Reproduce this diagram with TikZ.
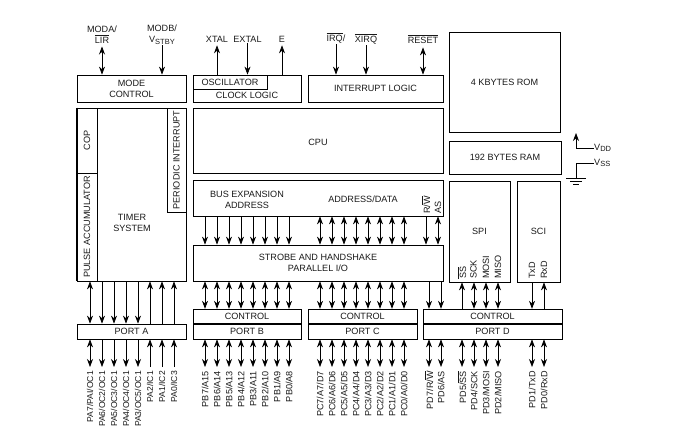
\documentclass[tikz,border=0pt]{standalone}
\usepackage{fontspec}
\setmainfont{Liberation Sans}
\usepackage{tikz}
\usetikzlibrary{arrows.meta,positioning,calc}
\newcommand{\barsig}[1]{$\overline{\mbox{#1}}$}
\newcommand{\subsig}[1]{\raisebox{-1.5pt}{\fontsize{7.5}{8}\selectfont #1}}

\begin{document}
\begin{tikzpicture}[
      x=1pt, y=-1pt,
      blockbox/.style={rectangle, draw=black, line width=0.8pt, fill=white,
                       inner sep=0pt, align=center},
      sidebox/.style={blockbox, rotate=90},
      arrow/.style={-{Stealth[length=8pt,width=6pt]}, line width=0.7pt},
      dblarrow/.style={{Stealth[length=8pt,width=6pt]}-{Stealth[length=8pt,width=6pt]},
                       line width=0.7pt},
      plainline/.style={line width=0.7pt},
      pinlabel/.style={rotate=90, anchor=east, inner xsep=4pt, inner ysep=0pt},
      siglabel/.style={inner sep=0pt, align=center},
      every node/.style={font=\fontsize{9.1}{11}\selectfont, text=black!90}
    ]
      \useasboundingbox (0,0) rectangle (678,444);
      %% Top row blocks
      \node[blockbox, minimum width=109pt, minimum height=27pt] (modectl) at (131.5,88.5)
            {MODE\\CONTROL};
      \node[blockbox, minimum width=108pt, minimum height=27pt] (clock) at (247,88.5) {};
      \node[blockbox, anchor=north west, minimum width=74pt, minimum height=14pt]
            (osc) at (clock.north west) {OSCILLATOR};
      \node[siglabel] (clocktxt) at (247,95.5) {CLOCK LOGIC};
      \node[blockbox, minimum width=135pt, minimum height=27pt] (intlogic) at (375.5,88.5)
            {INTERRUPT LOGIC};
      %% Memories
      \node[blockbox, minimum width=111pt, minimum height=100pt] (rom) at (504.5,82)
            {4 KBYTES ROM};
      \node[blockbox, minimum width=112pt, minimum height=33pt] (ram) at (505,157.5)
            {192 BYTES RAM};
      \node[blockbox, minimum width=250pt, minimum height=65pt] (cpu) at (318,140.5) {};
      \node[siglabel] (cputxt) at (318,142) {CPU};
      %% Timer block
      \node[blockbox, minimum width=109pt, minimum height=173pt] (timer) at (131.5,194.5) {};
      \node[siglabel] (timertxt) at (132,222.5) {TIMER\\SYSTEM};
      \draw[line width=1.8pt] (timer.north west) -- (timer.south west);
      \node[sidebox, minimum width=65pt, minimum height=20pt] (cop) at (87,140.5) {COP};
      \node[sidebox, minimum width=108pt, minimum height=20pt] (pulse) at (87,227)
            {PULSE ACCUMULATOR};
      \node[sidebox, minimum width=104pt, minimum height=19pt] (periodic) at (176.5,160)
            {PERIODIC INTERRUPT};
      %% Bus and parallel blocks
      \node[blockbox, minimum width=250pt, minimum height=36pt] (bus) at (318,198) {};
      \node[siglabel] (bustxt) at (247,200) {BUS EXPANSION\\ADDRESS};
      \node[siglabel] (datatxt) at (363,199) {ADDRESS/DATA};
      \node[blockbox, minimum width=250pt, minimum height=36pt] (strobe) at (318,263)
            {STROBE AND HANDSHAKE\\PARALLEL I/O};
      %% Serial blocks
      \node[blockbox, minimum width=61pt, minimum height=101pt] (spi) at (479.5,231.5) {SPI};
      \node[blockbox, minimum width=43pt, minimum height=101pt] (sci) at (538.5,231.5) {SCI};
      %% Ports
      \node[blockbox, minimum width=109pt, minimum height=15pt] (porta) at (131.5,331.5) {PORT A};
      \node[blockbox, minimum width=108pt, minimum height=15pt] (portb) at (247,331.5) {PORT B};
      \node[blockbox, minimum width=109pt, minimum height=15pt] (portc) at (362.5,331.5) {PORT C};
      \node[blockbox, minimum width=139pt, minimum height=15pt] (portd) at (492.5,331.5) {PORT D};
      \node[blockbox, minimum width=108pt, minimum height=14pt, above=0pt of portb] (ctlb) {CONTROL};
      \node[blockbox, minimum width=109pt, minimum height=14pt, above=0pt of portc] (ctlc) {CONTROL};
      \node[blockbox, minimum width=139pt, minimum height=14pt, above=0pt of portd] (ctld) {CONTROL};
      %% Top pins
      \node[siglabel] (moda) at (102,34.5) {MODA/\\\barsig{LIR}};
      \node[siglabel] (modb) at (162,34.5) {MODB/\\V\subsig{STBY}};
      \node[siglabel] (xtal) at (217,39) {XTAL};
      \node[siglabel] (extal) at (247.5,39) {EXTAL};
      \node[siglabel] (eclk) at (282,39) {E};
      \node[siglabel] (irq) at (336,38) {\barsig{IRQ}/};
      \node[siglabel] (xirq) at (366,39) {\barsig{XIRQ}};
      \node[siglabel] (reset) at (423,39) {\barsig{RESET}};
      \draw[dblarrow] (modectl.north-|moda) -- ($(moda.south)+(0,3)$);
      \draw[arrow] ($(modb.south)+(0,1)$) -- (modectl.north-|modb);
      \draw[arrow] (osc.north-|xtal) -- ($(xtal.south)+(0,3)$);
      \draw[arrow] ($(extal.south)+(0,1)$) -- (osc.north-|extal);
      \draw[arrow] (clock.north-|eclk) -- ($(eclk.south)+(0,3)$);
      \draw[arrow] ($(irq.south)+(0,1)$) -- (intlogic.north-|irq);
      \draw[arrow] ($(xirq.south)+(0,1)$) -- (intlogic.north-|xirq);
      \draw[dblarrow] (intlogic.north-|reset) -- ($(reset.south)+(0,4)$);
      %% Port A pins
      \foreach \i/\xpos/\name in {1/90/PA7\slash PAI\slash OC1, 2/102/PA6\slash OC2\slash OC1,
                                  3/114/PA5\slash OC3\slash OC1, 4/126/PA4\slash OC4\slash OC1,
                                  5/138/PA3\slash OC5\slash OC1, 6/150/PA2\slash IC1,
                                  7/162/PA1\slash IC2, 8/174/PA0\slash IC3}{
        \node[pinlabel, font=\fontsize{8.6}{10}\selectfont] (pa\i) at (\xpos,367) {\name};
      }
      \draw[dblarrow] (timer.south-|pa1) -- (porta.north-|pa1);
      \draw[dblarrow] (porta.south-|pa1) -- (pa1.east);
      \foreach \i in {2,...,5}{
        \draw[arrow] (timer.south-|pa\i) -- (porta.north-|pa\i);
        \draw[arrow] (porta.south-|pa\i) -- (pa\i.east);
      }
      \foreach \i in {6,7,8}{
        \draw[arrow] (porta.north-|pa\i) -- (timer.south-|pa\i);
        \draw[arrow] (pa\i.east) -- (porta.south-|pa\i);
      }
      %% Port B pins
      \foreach \i/\xpos/\name in {1/205/PB7\slash A15, 2/217/PB6\slash A14, 3/229/PB5\slash A13,
                                  4/241/PB4\slash A12, 5/253/PB3\slash A11, 6/265/PB2\slash A10,
                                  7/277/PB1\slash A9, 8/289/PB0\slash A8}{
        \node[pinlabel] (pb\i) at (\xpos,367) {\name};
        \draw[dblarrow] (portb.south-|pb\i) -- (pb\i.east);
        \draw[dblarrow] (strobe.south-|pb\i) -- (ctlb.north-|pb\i);
        \draw[arrow] (bus.south-|pb\i) -- (strobe.north-|pb\i);
      }
      %% Port C pins
      \foreach \i/\xpos/\name in {1/320/PC7\slash A7\slash D7, 2/332/PC6\slash A6\slash D6,
                                  3/344/PC5\slash A5\slash D5, 4/356/PC4\slash A4\slash D4,
                                  5/368/PC3\slash A3\slash D3, 6/380/PC2\slash A2\slash D2,
                                  7/392/PC1\slash A1\slash D1, 8/404/PC0\slash A0\slash D0}{
        \node[pinlabel] (pc\i) at (\xpos,367) {\name};
        \draw[dblarrow] (portc.south-|pc\i) -- (pc\i.east);
        \draw[dblarrow] (strobe.south-|pc\i) -- (ctlc.north-|pc\i);
        \draw[dblarrow] (bus.south-|pc\i) -- (strobe.north-|pc\i);
      }
      %% Port D pins
      \foreach \i/\xpos/\name in {1/429/PD7\slash R\slash\barsig{W}, 2/441/PD6\slash AS,
                                  3/462/PD5\slash\barsig{SS}, 4/474/PD4\slash SCK,
                                  5/486/PD3\slash MOSI, 6/498/PD2\slash MISO,
                                  7/532/PD1\slash TxD, 8/544/PD0\slash RxD}{
        \node[pinlabel] (pd\i) at (\xpos,367) {\name};
        \draw[dblarrow] (portd.south-|pd\i) -- (pd\i.east);
      }
      \draw[arrow] (strobe.south-|pd1) -- (ctld.north-|pd1);
      \draw[arrow] (strobe.south-|pd2) -- (ctld.north-|pd2);
      %% Bus control signals
      \node[pinlabel, anchor=west, inner xsep=0pt] (rwtxt) at (426,214) {R\slash\barsig{W}};
      \node[pinlabel, anchor=west, inner xsep=0pt] (astxt) at (438,214) {AS};
      \draw[arrow] (bus.south-|rwtxt) -- (strobe.north-|rwtxt);
      \draw[dblarrow] (bus.south-|astxt) -- (strobe.north-|astxt);
      %% SPI and SCI signals
      \foreach \i/\xpos/\name in {1/462/\barsig{SS}, 2/473.5/SCK, 3/486/MOSI, 4/498/MISO}{
        \node[pinlabel, anchor=west, inner xsep=0pt] (spi\i) at (\xpos,279) {\name};
      }
      \foreach \i/\xpos/\name in {1/532/TxD, 2/544/RxD}{
        \node[pinlabel, anchor=west, inner xsep=0pt] (sci\i) at (\xpos,279) {\name};
      }
      \draw[arrow] (ctld.north-|pd3) -- (spi.south-|pd3);
      \draw[dblarrow] (ctld.north-|pd4) -- (spi.south-|pd4);
      \draw[dblarrow] (ctld.north-|pd5) -- (spi.south-|pd5);
      \draw[dblarrow] (ctld.north-|pd6) -- (spi.south-|pd6);
      \draw[arrow] (sci.south-|pd7) -- (ctld.north-|pd7);
      \draw[arrow] (ctld.north-|pd8) -- (sci.south-|pd8);
      %% Supply pins
      \node[siglabel, anchor=west] (vdd) at (594,148) {V\subsig{DD}};
      \node[siglabel, anchor=west] (vss) at (594,163) {V\subsig{SS}};
      \coordinate (vddtop) at (576,133);
      \coordinate (gndtop) at (576,178);
      \draw[arrow] (vdd.west) -| (vddtop);
      \draw[plainline] (vss.west) -| (gndtop);
      \draw[plainline] ($(gndtop)+(-10,0)$) -- ($(gndtop)+(10,0)$);
      \draw[plainline] ($(gndtop)+(-6,3)$) -- ($(gndtop)+(6,3)$);
      \draw[plainline] ($(gndtop)+(-3,6)$) -- ($(gndtop)+(3,6)$);
    \end{tikzpicture}
\end{document}
